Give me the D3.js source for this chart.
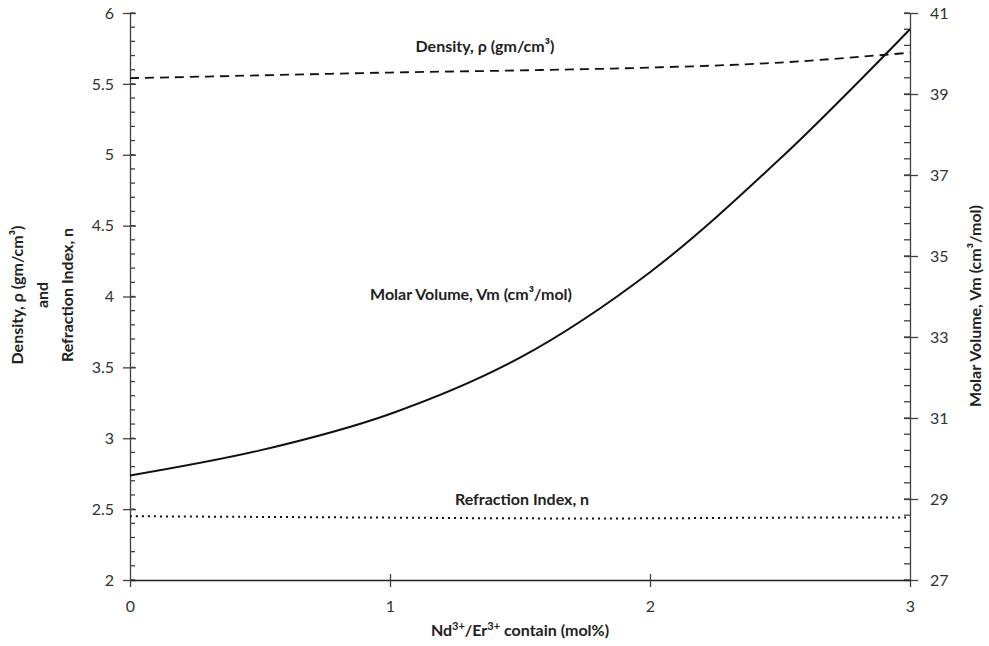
<!DOCTYPE html>
<html>
<head>
<meta charset="utf-8">
<script src="https://cdn.jsdelivr.net/npm/d3@7"></script>
<style>
  body { margin: 0; background: #fff; }
  text { font-family: Lato, "Open Sans", sans-serif; }
</style>
</head>
<body>
<svg width="989" height="646"></svg>
<script>
var svg = d3.select("svg");

// data
var content = [0, 0.5, 1, 1.5, 2, 2.5, 3];
var density = [5.54, 5.56, 5.58, 5.595, 5.615, 5.65, 5.72];
var refraction = [2.45, 2.445, 2.44, 2.435, 2.435, 2.44, 2.44];
var molarVolume = [29.58, 30.2, 31.1, 32.49, 34.6, 37.4, 40.6];

var xTicks = [0, 1, 2, 3];
var leftTicks = [2, 2.5, 3, 3.5, 4, 4.5, 5, 5.5, 6];
var rightTicks = [27, 29, 31, 33, 35, 37, 39, 41];

var x = d3.scaleLinear().domain([0, 3]).range([130, 910]);
var yL = d3.scaleLinear().domain([2, 6]).range([580, 13]);
var yR = d3.scaleLinear().domain([27, 41]).range([580, 13]);

var axisColor = "#404040";
var textColor = "#333";

// left axis: minor ticks inside, majors crossing
var leftMinor = d3.range(20, 61).map(function(d) { return d / 10; });
svg.append("g").selectAll("line").data(leftMinor).enter().append("line")
    .attr("x1", 130).attr("x2", 135)
    .attr("y1", function(d) { return yL(d); }).attr("y2", function(d) { return yL(d); })
    .attr("stroke", axisColor).attr("stroke-width", 1.3);

var gL = svg.append("g").attr("transform", "translate(130,0)")
    .call(d3.axisLeft(yL).tickValues(leftTicks).tickSizeInner(7).tickSizeOuter(0).tickPadding(9)
        .tickFormat(function(d) { return d; }));
gL.selectAll(".tick line").attr("x2", -7).attr("x1", 6);

// right axis
var rightMinor = d3.range(0, 36).map(function(i) { return 27 + i * 0.4; });
svg.append("g").selectAll("line").data(rightMinor).enter().append("line")
    .attr("x1", 904).attr("x2", 910)
    .attr("y1", function(d) { return yR(d); }).attr("y2", function(d) { return yR(d); })
    .attr("stroke", axisColor).attr("stroke-width", 1.3);

var gR = svg.append("g").attr("transform", "translate(910,0)")
    .call(d3.axisRight(yR).tickValues(rightTicks).tickSizeInner(8).tickSizeOuter(0).tickPadding(12));
gR.selectAll(".tick line").attr("x1", -6);

// x axis
var gX = svg.append("g").attr("transform", "translate(0,580)")
    .call(d3.axisBottom(x).tickValues(xTicks).tickFormat(d3.format("d"))
        .tickSizeInner(7).tickSizeOuter(0).tickPadding(14));
gX.selectAll(".tick line").attr("y1", function(d) { return (d > 0 && d < 3) ? -6 : 0; });

[gL, gR, gX].forEach(function(g) {
  g.select(".domain").attr("stroke", axisColor).attr("stroke-width", 1.3);
  g.selectAll(".tick line").attr("stroke", axisColor).attr("stroke-width", 1.3);
  g.selectAll(".tick text").attr("fill", textColor).style("font-size", "16px");
});
gX.select(".domain").attr("stroke", "#222").attr("stroke-width", 1.6);

// lines
var pts = function(vals) { return content.map(function(c, i) { return [c, vals[i]]; }); };

var lineL = d3.line().x(function(d) { return x(d[0]); }).y(function(d) { return yL(d[1]); })
    .curve(d3.curveCatmullRom);
var lineR = d3.line().x(function(d) { return x(d[0]); }).y(function(d) { return yR(d[1]); })
    .curve(d3.curveCatmullRom);

svg.append("path").datum(pts(density)).attr("d", lineL)
    .attr("fill", "none").attr("stroke", "#111").attr("stroke-width", 1.8)
    .attr("stroke-dasharray", "9,6");

svg.append("path").datum(pts(refraction)).attr("d", lineL)
    .attr("fill", "none").attr("stroke", "#111").attr("stroke-width", 2)
    .attr("stroke-dasharray", "2,4");

svg.append("path").datum(pts(molarVolume)).attr("d", lineR)
    .attr("fill", "none").attr("stroke", "#111").attr("stroke-width", 2);

// labels
function label(txt, px, py, anchor) {
  return svg.append("text").attr("x", px).attr("y", py)
      .attr("text-anchor", anchor || "middle")
      .attr("fill", "#222").style("font-size", "16px").style("font-weight", "bold")
      .text(txt);
}
label("Density, ρ (gm/cm³)", 485, 52);
label("Molar Volume, Vm (cm³/mol)", 471, 300);
label("Refraction Index, n", 522, 505);

var xt = svg.append("text").attr("x", 520).attr("y", 636).attr("text-anchor", "middle")
    .attr("fill", "#222").style("font-size", "16px").style("font-weight", "bold");
xt.append("tspan").text("Nd");
xt.append("tspan").text("3+").attr("dy", -6).style("font-size", "11px");
xt.append("tspan").text("/Er").attr("dy", 6);
xt.append("tspan").text("3+").attr("dy", -6).style("font-size", "11px");
xt.append("tspan").text(" contain (mol%)").attr("dy", 6);

var leftTitle = ["Density, ρ (gm/cm³)", "and", "Refraction Index, n"];
svg.append("g").selectAll("text").data(leftTitle).enter().append("text")
    .attr("transform", function(d, i) { return "translate(" + (23 + i * 25) + ",295) rotate(-90)"; })
    .attr("text-anchor", "middle")
    .attr("fill", "#222").style("font-size", "16px").style("font-weight", "bold")
    .text(function(d) { return d; });

svg.append("text").attr("transform", "translate(981,306) rotate(-90)")
    .attr("text-anchor", "middle")
    .attr("fill", "#222").style("font-size", "16px").style("font-weight", "bold")
    .text("Molar Volume, Vm (cm³/mol)");
</script>
</body>
</html>
